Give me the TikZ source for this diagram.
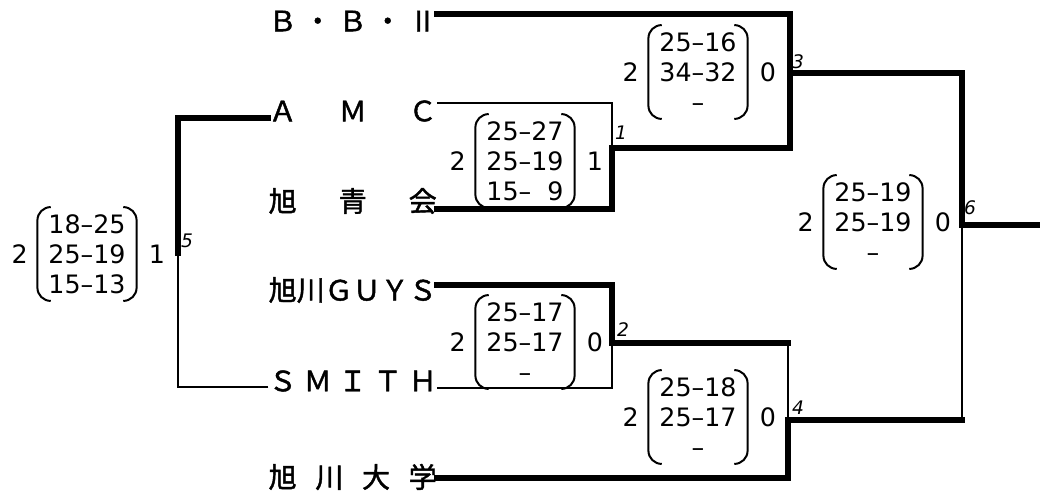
\documentclass[tikz,border=0pt]{standalone}
\usepackage{fontspec}
\setmainfont{DejaVu Sans}
\newfontfamily\jpfont[AutoFakeBold=1.5]{Noto Sans CJK JP}
\usetikzlibrary{positioning}

\begin{document}
\begin{tikzpicture}[x=0.75pt, y=-0.75pt,
			team/.style={font=\jpfont\bfseries\fontsize{21}{21}\selectfont, anchor=east, inner sep=0pt},
			score/.style={font=\fontsize{19}{22.5}\selectfont, align=center,
				minimum width=74pt, minimum height=70pt, inner sep=0pt},
			side/.style={font=\fontsize{19}{19}\selectfont, inner sep=0pt},
			win/.style={line width=3.8pt, line cap=rect},
			lose/.style={line width=1.5pt},
			paren/.style={line width=1.5pt, rounded corners=10pt},
			lbl/.style={font=\fontsize{14}{14}\selectfont\itshape, inner sep=0pt}
		]
			\useasboundingbox (0,0) rectangle (1040,493);
			\node[team] (bb) at (437,21) {Ｂ\hspace{.25em}・\hspace{.25em}Ｂ\hspace{.25em}・\hspace{.25em}Ⅱ};
			\node[team] (amc) at (437,111) {Ａ\hspace{1.5em}Ｍ\hspace{1.5em}Ｃ};
			\node[team] (sei) at (437,201) {旭\hspace{1.5em}青\hspace{1.5em}会};
			\node[team] (guys) at (437,290) {旭川ＧＵＹＳ};
			\node[team] (smith) at (437,381) {Ｓ\hspace{.25em}Ｍ\hspace{.25em}Ｉ\hspace{.25em}Ｔ\hspace{.25em}Ｈ};
			\node[team] (daigaku) at (437,477) {旭\hspace{.667em}川\hspace{.667em}大\hspace{.667em}学};

			\coordinate (m1) at (612,148);
			\coordinate (m2) at (612,343);
			\coordinate (m3) at (790,73);
			\coordinate (m4) at (788,420);
			\coordinate (m5) at (178,253);
			\coordinate (m6) at (962,225);
			\coordinate (final) at (1040,225);

			\draw[lose] (amc.east |- 0,103) -| (m1);
			\draw[win] (sei.east |- 0,209) -| (m1) -- (m1 -| m3);
			\draw[win] (bb.east |- 0,14) -| (m1 -| m3);
			\draw[win] (m3) -| (m6) -- (final);
			\draw[win] (guys.east |- 0,285) -| (m2) -- (m2 -| m4);
			\draw[lose] (smith.east |- 0,388) -| (m2);
			\draw[lose] (m2 -| m4) -- (m4);
			\draw[win] (daigaku.east |- 0,478) -| (m4) -- (m4 -| m6);
			\draw[lose] (m4 -| m6) -- (m6);
			\draw[win] (amc.west |- 0,118) -| (m5);
			\draw[lose] (smith.west |- 0,387) -| (m5);

			\node[score] (s1) at (525,161) {25–27\\25–19\\15–\phantom{0}9};
			\node[score] (s2) at (525,342) {25–17\\25–17\\–};
			\node[score] (s3) at (698,72) {25–16\\34–32\\–};
			\node[score] (s4) at (698,417) {25–18\\25–17\\–};
			\node[score] (s5) at (87,254) {18–25\\25–19\\15–13};
			\node[score] (s6) at (873,222) {25–19\\25–19\\–};
			\foreach \s in {1,...,6} {
				\draw[paren] ([xshift=10pt]s\s.north west) -- (s\s.north west) -- (s\s.south west) -- ([xshift=10pt]s\s.south west);
				\draw[paren] ([xshift=-10pt]s\s.north east) -- (s\s.north east) -- (s\s.south east) -- ([xshift=-10pt]s\s.south east);
			}
			\node[side, left=7pt of s1] (w1) {2};
			\node[side, right=9pt of s1] (v1) {1};
			\node[side, left=7pt of s2] (w2) {2};
			\node[side, right=9pt of s2] (v2) {0};
			\node[side, left=7pt of s3] (w3) {2};
			\node[side, right=9pt of s3] (v3) {0};
			\node[side, left=7pt of s4] (w4) {2};
			\node[side, right=9pt of s4] (v4) {0};
			\node[side, left=7pt of s5] (w5) {2};
			\node[side, right=9pt of s5] (v5) {1};
			\node[side, left=7pt of s6] (w6) {2};
			\node[side, right=9pt of s6] (v6) {0};

			\node[lbl] (l1) at (621,133) {1};
			\node[lbl] (l2) at (623,330) {2};
			\node[lbl] (l3) at (798,62) {3};
			\node[lbl] (l4) at (798,408) {4};
			\node[lbl] (l5) at (187,241) {5};
			\node[lbl] (l6) at (970,208) {6};
		\end{tikzpicture}
\end{document}
